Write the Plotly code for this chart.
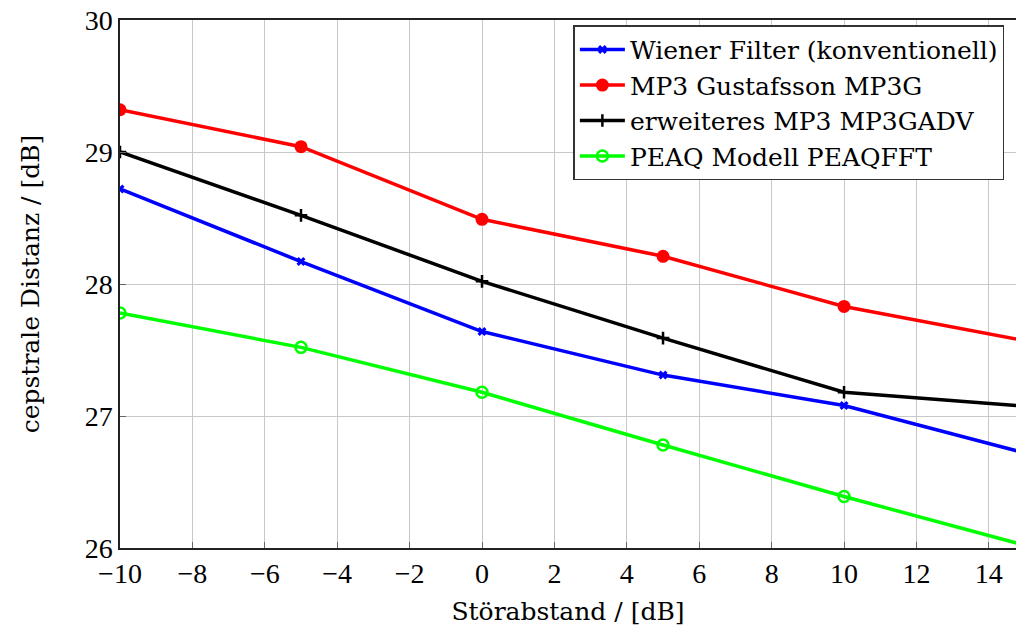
import plotly.graph_objects as go

# Störabstand (SNR) in dB
snr = [-10, -5, 0, 5, 10, 15]

# cepstrale Distanz in dB per method
wiener = [28.72, 28.17, 27.64, 27.31, 27.08, 26.72]
mp3g = [29.32, 29.04, 28.49, 28.21, 27.83, 27.57]
mp3gadv = [29.00, 28.52, 28.02, 27.59, 27.18, 27.075]
peaqfft = [27.78, 27.52, 27.18, 26.78, 26.39, 26.02]

names = [
    "Wiener Filter (konventionell)",
    "MP3 Gustafsson MP3G",
    "erweiteres MP3 MP3GADV",
    "PEAQ Modell PEAQFFT",
]

TICKFONT = "Liberation Serif"
TEXTFONT = "DejaVu Serif"

fig = go.Figure()
fig.add_trace(go.Scatter(
    x=snr, y=wiener, name=names[0], mode="lines+markers",
    line=dict(color="#0000ff", width=3.5),
    marker=dict(symbol="x", size=8, color="#0000ff", line=dict(width=0)),
))
fig.add_trace(go.Scatter(
    x=snr, y=mp3g, name=names[1], mode="lines+markers",
    line=dict(color="#ff0000", width=3.5),
    marker=dict(symbol="circle", size=13, color="#ff0000"),
))
fig.add_trace(go.Scatter(
    x=snr, y=mp3gadv, name=names[2], mode="lines+markers",
    line=dict(color="#000000", width=3.5),
    marker=dict(symbol="cross-thin", size=9, color="#000000",
                line=dict(width=2.5, color="#000000")),
))
fig.add_trace(go.Scatter(
    x=snr, y=peaqfft, name=names[3], mode="lines+markers",
    line=dict(color="#00ff00", width=3.5),
    marker=dict(symbol="circle-open", size=11, color="#00ff00",
                line=dict(width=2.5, color="#00ff00")),
))

fig.update_layout(
    width=1016, height=628,
    margin=dict(l=120, r=0, t=20, b=80),
    paper_bgcolor="white", plot_bgcolor="white",
    font=dict(family=TEXTFONT, size=24, color="black"),
    showlegend=True,
    legend=dict(
        x=0.506, y=0.99, xanchor="left", yanchor="top",
        bgcolor="white", bordercolor="#333333", borderwidth=1.5,
        font=dict(family=TEXTFONT, size=25, color="black"),
        tracegroupgap=0, itemwidth=45,
    ),
    xaxis=dict(
        range=[-10, 14.75], dtick=2, tick0=-10,
        showgrid=True, gridcolor="#c8c8c8", gridwidth=1,
        zeroline=False,
        showline=True, linecolor="#222222", linewidth=1.5, mirror=True,
        ticks="inside", ticklen=6, tickcolor="#666666",
        tickfont=dict(family=TICKFONT, size=28),
        title=dict(text="Störabstand / [dB]", font=dict(family=TEXTFONT, size=25), standoff=14),
    ),
    yaxis=dict(
        range=[26, 30], dtick=1,
        showgrid=True, gridcolor="#c8c8c8", gridwidth=1,
        zeroline=False,
        showline=True, linecolor="#222222", linewidth=1.5, mirror=False,
        ticks="inside", ticklen=6, tickcolor="#666666",
        tickfont=dict(family=TICKFONT, size=28),
        title=dict(text="cepstrale Distanz / [dB]", font=dict(family=TEXTFONT, size=25), standoff=38),
    ),
)

fig.write_html("out.html")
